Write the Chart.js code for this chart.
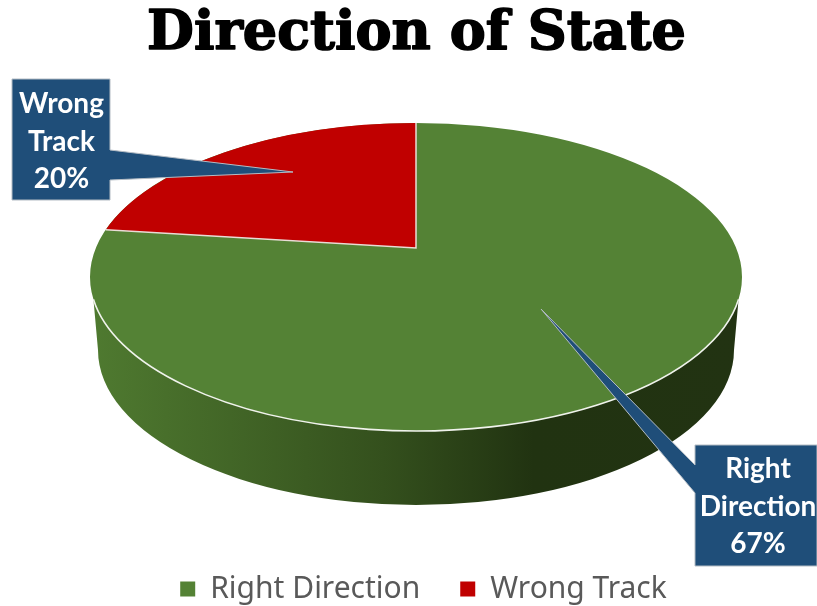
<!DOCTYPE html>
<html>
<head>
<meta charset="utf-8">
<title>Direction of State</title>
<script src="https://cdn.jsdelivr.net/npm/chart.js@4"></script>
<style>
  html, body { margin: 0; padding: 0; background: #fff; }
  canvas { display: block; }
</style>
</head>
<body>
<canvas id="chart-canvas" width="817" height="606"></canvas>
<script>
/* -------------  DATA  ------------- */
const categories = ['Right Direction', 'Wrong Track'];
const seriesValues = [67, 20];
const sliceColors = ['#548235', '#c00000'];
const chartTitle = 'Direction of State';
const calloutLines = [['Right', 'Direction'], ['Wrong', 'Track']];

/* -------------  LOOK OF THE 3D PIE  ------------- */
const PIE = { cx: 416, cy: 277, rx: 326, ry: 154, apexShift: 29 / 154 };
const WALL = { cy: 350, rx: 318, ry: 155, startAngle: 0.145 };
const CALLOUTS = [
  { left: 695, top: 445, right: 817, bottom: 566, tipX: 541, tipY: 309, baseA: [695, 465], baseB: [695, 493], textX: 758, textY: 469 },
  { left: 12, top: 79, right: 110, bottom: 200, tipX: 293, tipY: 172, baseA: [110, 180], baseB: [110, 150], textX: 61.5, textY: 104 },
];
const TITLE_FONT = { family: '"DejaVu Serif"', size: 54, weight: 'bold', lineHeight: 1.2 };
const TITLE_TOP = 3;
const TITLE_SHIFT = 8;
const LEGEND_SHIFT_X = 15;
const LEGEND_SHIFT_Y = 8;
const TAU = Math.PI * 2;

/**
 * Moves an angle of the flat pie to where the tilted pie shows it.
 * The centre of the disc is seen above the middle of the ellipse.
 * @returns {object} - Unit position and the angle on the ellipse
 */
function tiltAngle(angle) {
  const a = PIE.apexShift;
  const u = Math.cos(angle);
  const v = Math.sin(angle);
  const w = 1 - a * v;
  const x = (u * Math.sqrt(1 - a * a)) / w;
  const y = (v - a) / w;
  return { x: x, y: y, angle: Math.atan2(y, x) };
}

function drawWall(ctx) {
  const gradient = ctx.createLinearGradient(PIE.cx - PIE.rx, 0, PIE.cx + PIE.rx, 0);
  gradient.addColorStop(0, '#4f7a30');
  gradient.addColorStop(0.45, '#34501d');
  gradient.addColorStop(0.68, '#213311');
  gradient.addColorStop(1, '#223312');
  const s = WALL.startAngle;
  ctx.save();
  ctx.beginPath();
  ctx.moveTo(PIE.cx - PIE.rx * Math.cos(s), PIE.cy + PIE.ry * Math.sin(s));
  ctx.ellipse(PIE.cx, WALL.cy, WALL.rx, WALL.ry, 0, Math.PI, 0, true);
  ctx.lineTo(PIE.cx + PIE.rx * Math.cos(s), PIE.cy + PIE.ry * Math.sin(s));
  ctx.closePath();
  ctx.fillStyle = gradient;
  ctx.fill();
  ctx.restore();
}

function drawFrontEdge(ctx) {
  const s = WALL.startAngle;
  ctx.save();
  ctx.beginPath();
  ctx.ellipse(PIE.cx, PIE.cy, PIE.rx, PIE.ry, 0, s, Math.PI - s);
  ctx.strokeStyle = '#f0f3ec';
  ctx.lineWidth = 1.6;
  ctx.stroke();
  ctx.restore();
}

/**
 * Draws one arc element of the library with other angles, inside the
 * transform that turns its circle into the ellipse.
 */
function drawArcWith(arc, ctx, start, end) {
  const kept = { startAngle: arc.startAngle, endAngle: arc.endAngle, circumference: arc.circumference };
  arc.startAngle = start;
  arc.endAngle = end;
  arc.circumference = end - start;
  arc.draw(ctx);
  Object.assign(arc, kept);
}

function drawSlices(chart) {
  const ctx = chart.ctx;
  const arcs = chart.getDatasetMeta(0).data;
  const apexX = PIE.cx;
  const apexY = PIE.cy - PIE.apexShift * PIE.ry;

  arcs.forEach((arc, i) => {
    const scaleX = PIE.rx / arc.outerRadius;
    const scaleY = PIE.ry / arc.outerRadius;
    const from = tiltAngle(arc.startAngle);
    const to = tiltAngle(arc.endAngle);
    let end = to.angle;
    while (end < from.angle) end += TAU;
    const fromX = PIE.cx + PIE.rx * from.x;
    const fromY = PIE.cy + PIE.ry * from.y;
    const toX = PIE.cx + PIE.rx * to.x;
    const toY = PIE.cy + PIE.ry * to.y;

    ctx.save();
    if (i > 0) {
      ctx.beginPath();
      ctx.moveTo(apexX, apexY);
      ctx.lineTo(apexX + (fromX - apexX) * 2, apexY + (fromY - apexY) * 2);
      ctx.lineTo(apexX + (toX - apexX) * 2, apexY + (toY - apexY) * 2);
      ctx.closePath();
      ctx.clip();
    }
    ctx.translate(PIE.cx, PIE.cy);
    ctx.scale(scaleX, scaleY);
    ctx.translate(-arc.x, -arc.y);
    if (i === 0) {
      drawArcWith(arc, ctx, -Math.PI / 2, -Math.PI / 2 + TAU);
    } else {
      drawArcWith(arc, ctx, from.angle, end);
    }
    ctx.restore();

    if (i > 0) {
      ctx.save();
      ctx.beginPath();
      ctx.moveTo(fromX, fromY);
      ctx.lineTo(apexX, apexY);
      ctx.lineTo(toX, toY);
      ctx.strokeStyle = '#e9dcd6';
      ctx.lineWidth = 1.5;
      ctx.stroke();
      ctx.restore();
    }
  });
}

function drawCallouts(ctx) {
  CALLOUTS.forEach((box, i) => {
    ctx.save();
    ctx.beginPath();
    ctx.moveTo(box.left, box.top);
    ctx.lineTo(box.right, box.top);
    if (box.baseA[0] === box.right) {
      ctx.lineTo(box.right, box.baseB[1]);
      ctx.lineTo(box.tipX, box.tipY);
      ctx.lineTo(box.right, box.baseA[1]);
    }
    ctx.lineTo(box.right, box.bottom);
    ctx.lineTo(box.left, box.bottom);
    if (box.baseA[0] === box.left) {
      ctx.lineTo(box.left, box.baseB[1]);
      ctx.lineTo(box.tipX, box.tipY);
      ctx.lineTo(box.left, box.baseA[1]);
    }
    ctx.closePath();
    ctx.fillStyle = '#1f4e79';
    ctx.strokeStyle = '#b4bcc4';
    ctx.lineWidth = 1;
    ctx.fill();
    ctx.stroke();

    const lines = calloutLines[i].concat(seriesValues[i] + '%');
    ctx.fillStyle = '#fff';
    ctx.font = 'bold 28px Lato';
    ctx.textAlign = 'center';
    ctx.textBaseline = 'middle';
    lines.forEach((line, n) => ctx.fillText(line, box.textX, box.textY + n * 37.5));
    ctx.restore();
  });
}

// the title font is not as heavy as the original one, so go over it again
function thickenTitle(chart) {
  const ctx = chart.ctx;
  const block = chart.titleBlock;
  ctx.save();
  ctx.font = 'bold ' + TITLE_FONT.size + 'px ' + TITLE_FONT.family;
  ctx.textAlign = 'center';
  ctx.textBaseline = 'middle';
  ctx.strokeStyle = '#000';
  ctx.lineWidth = 1.6;
  ctx.lineJoin = 'round';
  ctx.strokeText(chartTitle, (block.left + block.right) / 2, block.top + TITLE_TOP + (TITLE_FONT.size * TITLE_FONT.lineHeight) / 2);
  ctx.restore();
}

const tiltedPie = {
  id: 'tiltedPie',
  afterLayout(chart) {
    chart.titleBlock.left += TITLE_SHIFT;
    chart.titleBlock.right += TITLE_SHIFT;
    chart.legend.left += LEGEND_SHIFT_X;
    chart.legend.right += LEGEND_SHIFT_X;
    chart.legend.top += LEGEND_SHIFT_Y;
    chart.legend.bottom += LEGEND_SHIFT_Y;
  },
  afterDraw(chart) {
    thickenTitle(chart);
    drawCallouts(chart.ctx);
  },
  beforeDatasetsDraw(chart) {
    drawWall(chart.ctx);
    drawSlices(chart);
    drawFrontEdge(chart.ctx);
    return false;
  },
};

new Chart(document.getElementById('chart-canvas'), {
  type: 'pie',
  plugins: [tiltedPie],
  data: {
    labels: categories,
    datasets: [{ data: seriesValues, backgroundColor: sliceColors, borderWidth: 0 }],
  },
  options: {
    responsive: false,
    animation: false,
    plugins: {
      title: {
        display: true,
        text: chartTitle,
        color: '#000',
        font: TITLE_FONT,
        padding: { top: TITLE_TOP, bottom: 0 },
      },
      legend: {
        position: 'bottom',
        labels: { boxWidth: 15, boxHeight: 15, padding: 40, color: '#595959', font: { family: '"Noto Sans"', size: 30 } },
      },
      tooltip: { enabled: false },
    },
  },
});
</script>
</body>
</html>
